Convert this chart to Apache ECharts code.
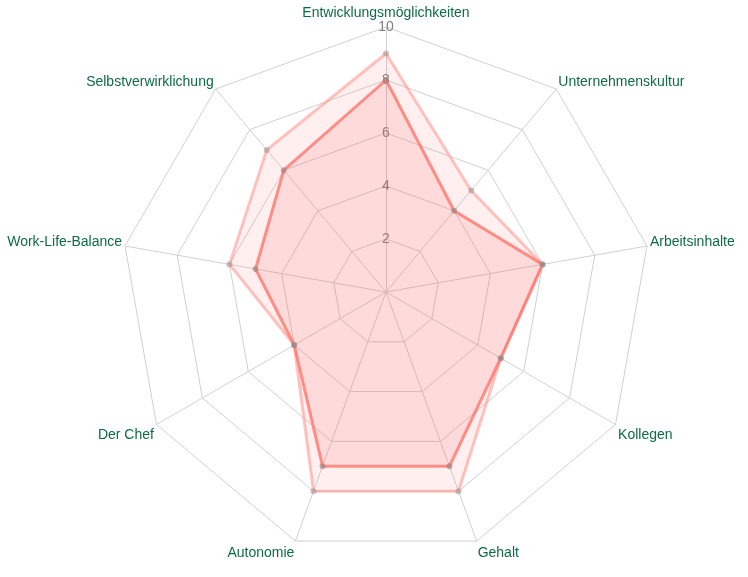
<!DOCTYPE html>
<html>
<head>
<meta charset="utf-8">
<script src="https://cdn.jsdelivr.net/npm/echarts@6/dist/echarts.min.js"></script>
<style>
  html, body { margin: 0; padding: 0; background: #fff; }
  #myChart { width: 748px; height: 577px; }
</style>
</head>
<body>
<div id="myChart"></div>
<script>
// Achsen (im Uhrzeigersinn ab oben)
var indicatorNames = ['Entwicklungsmöglichkeiten', 'Unternehmenskultur', 'Arbeitsinhalte', 'Kollegen',
    'Gehalt', 'Autonomie', 'Der Chef', 'Work-Life-Balance', 'Selbstverwirklichung'];
var maxValue = 10;
// äußere (helle) und innere (kräftige) Fläche
var valuesLight = [9, 5, 6, 5, 8, 8, 4, 6, 7];
var valuesDark = [8, 4, 6, 5, 7, 7, 4, 5, 6];

var labelColor = '#0e6b45';
var labelFont = 'Liberation Sans, Arial, sans-serif';
// Stil der Achsennamen je Achse (gleiche Reihenfolge wie indicatorNames)
var nameStyle = ['top', 'up', 'side', 'low', 'bottom', 'bottom', 'low', 'side', 'up'];

// echarts zeichnet gegen den Uhrzeigersinn -> erste bleibt oben, Rest umdrehen
function ccw(arr) {
    return [arr[0]].concat(arr.slice(1).reverse());
}

// nur die erste Achse bekommt die Skalenbeschriftung
var indicators = ccw(indicatorNames).map(function (n, i) {
    var ind = {name: n, max: maxValue, min: 0};
    if (i === 0) {
        ind.axisLabel = {show: true};
    }
    return ind;
});

function richStyle(pad, lh) {
    var s = {color: labelColor, fontSize: 14, fontFamily: labelFont, padding: pad};
    if (lh) s.lineHeight = lh;
    return s;
}

var myChart = echarts.init(document.getElementById('myChart'));
myChart.setOption({
    animation: false,
    radar: {
        center: [386, 292],
        radius: 265,
        startAngle: 90,
        splitNumber: 5,
        shape: 'polygon',
        indicator: indicators,
        axisName: {
            color: labelColor,
            fontSize: 14,
            fontFamily: labelFont,
            formatter: function (name) {
                var k = nameStyle[indicatorNames.indexOf(name)];
                return '{' + k + '|' + name + '}';
            },
            rich: {
                top: richStyle([0, 0, 0, 0], 8),
                up: richStyle([0, 0, 10, 0]),
                side: richStyle([0, 0, 6, 0]),
                low: richStyle([18, 0, 0, 0]),
                bottom: richStyle([18, 0, 0, 0])
            }
        },
        nameGap: 3,
        axisLine: {lineStyle: {color: '#d0d0d0', width: 1}},
        splitLine: {lineStyle: {color: '#d0d0d0', width: 1}},
        splitArea: {show: false},
        axisTick: {show: false},
        axisLabel: {
            show: false,
            showMinLabel: false,
            color: '#808080',
            fontSize: 14,
            fontFamily: labelFont,
            margin: 0,
            align: 'center',
            verticalAlign: 'middle'
        }
    },
    series: [
        {
            type: 'radar',
            symbol: 'circle',
            symbolSize: 6,
            data: [{
                value: ccw(valuesLight),
                name: 'hell',
                lineStyle: {color: 'rgba(255,150,140,0.55)', width: 3},
                areaStyle: {color: 'rgba(255,100,100,0.15)'},
                itemStyle: {color: 'rgba(170,150,150,0.6)'}
            }]
        },
        {
            type: 'radar',
            symbol: 'circle',
            symbolSize: 6,
            data: [{
                value: ccw(valuesDark),
                name: 'dunkel',
                lineStyle: {color: 'rgba(255,120,110,0.8)', width: 3},
                areaStyle: {color: 'rgba(255,100,100,0.22)'},
                itemStyle: {color: 'rgba(150,130,130,0.6)'}
            }]
        }
    ]
});
</script>
</body>
</html>
